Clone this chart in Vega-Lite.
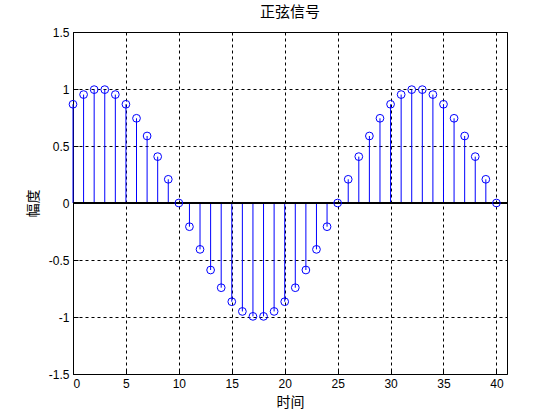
{
  "$schema": "https://vega.github.io/schema/vega-lite/v6.json",
  "autosize": {"type": "none"},
  "padding": {"left": 73, "top": 32, "right": 53, "bottom": 46},
  "width": 434,
  "height": 342,
  "background": "white",
  "title": {"text": "正弦信号", "font": "Noto Sans CJK SC", "fontSize": 15, "fontWeight": "normal", "color": "black", "offset": 6},
  "config": {
    "view": {"stroke": "black", "strokeWidth": 1},
    "axis": {
      "domain": false,
      "grid": true,
      "gridColor": "black",
      "gridDash": [3, 3],
      "gridOpacity": 1,
      "gridWidth": 1,
      "ticks": true,
      "tickColor": "black",
      "tickSize": -5,
      "zindex": 0,
      "labelFont": "Liberation Sans",
      "labelFontSize": 12,
      "labelColor": "black",
      "titleFont": "Noto Sans CJK SC",
      "titleFontSize": 14,
      "titleFontWeight": "normal",
      "titleColor": "black"
    }
  },
  "data": {"values": [
    {"t": 0, "y": 0.8660}, {"t": 1, "y": 0.9511}, {"t": 2, "y": 0.9945}, {"t": 3, "y": 0.9945},
    {"t": 4, "y": 0.9511}, {"t": 5, "y": 0.8660}, {"t": 6, "y": 0.7431}, {"t": 7, "y": 0.5878},
    {"t": 8, "y": 0.4067}, {"t": 9, "y": 0.2079}, {"t": 10, "y": 0.0}, {"t": 11, "y": -0.2079},
    {"t": 12, "y": -0.4067}, {"t": 13, "y": -0.5878}, {"t": 14, "y": -0.7431}, {"t": 15, "y": -0.8660},
    {"t": 16, "y": -0.9511}, {"t": 17, "y": -0.9945}, {"t": 18, "y": -0.9945}, {"t": 19, "y": -0.9511},
    {"t": 20, "y": -0.8660}, {"t": 21, "y": -0.7431}, {"t": 22, "y": -0.5878}, {"t": 23, "y": -0.4067},
    {"t": 24, "y": -0.2079}, {"t": 25, "y": 0.0}, {"t": 26, "y": 0.2079}, {"t": 27, "y": 0.4067},
    {"t": 28, "y": 0.5878}, {"t": 29, "y": 0.7431}, {"t": 30, "y": 0.8660}, {"t": 31, "y": 0.9511},
    {"t": 32, "y": 0.9945}, {"t": 33, "y": 0.9945}, {"t": 34, "y": 0.9511}, {"t": 35, "y": 0.8660},
    {"t": 36, "y": 0.7431}, {"t": 37, "y": 0.5878}, {"t": 38, "y": 0.4067}, {"t": 39, "y": 0.2079},
    {"t": 40, "y": 0.0}
  ]},
  "layer": [
    {
      "mark": {"type": "rule", "color": "#0000ff", "strokeWidth": 1},
      "encoding": {
        "x": {"field": "t", "type": "quantitative", "scale": {"domain": [0, 41], "nice": false, "zero": false},
              "axis": {"values": [0, 5, 10, 15, 20, 25, 30, 35, 40], "title": "时间", "labelPadding": 9, "labelExpr": "'' + datum.value", "titleX": 217, "titleY": 28, "titleBaseline": "middle"}},
        "y": {"field": "y", "type": "quantitative", "scale": {"domain": [-1.5, 1.5], "nice": false},
              "axis": {"values": [-1.5, -1, -0.5, 0, 0.5, 1, 1.5], "title": "幅度", "labelPadding": 9, "labelExpr": "'' + datum.value", "titleX": -40, "titleY": 171, "titleBaseline": "middle", "titleAngle": -90}},
        "y2": {"datum": 0}
      }
    },
    {
      "mark": {"type": "rule", "color": "black", "strokeWidth": 1},
      "encoding": {"y": {"datum": 0}}
    },
    {
      "mark": {"type": "point", "shape": "circle", "filled": false, "color": "#0000ff", "strokeWidth": 1, "size": 60, "opacity": 1},
      "encoding": {
        "x": {"field": "t", "type": "quantitative"},
        "y": {"field": "y", "type": "quantitative"}
      }
    }
  ]
}
